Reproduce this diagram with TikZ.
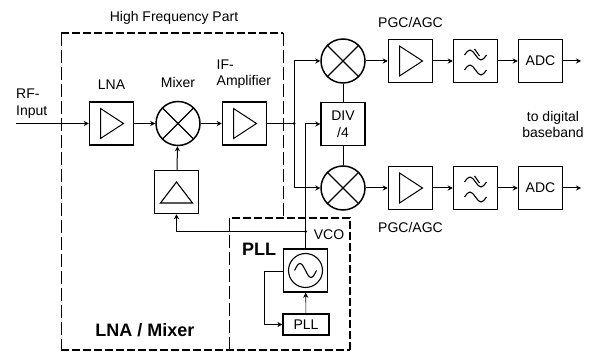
\documentclass[tikz,border=0pt]{standalone}
\usepackage{fontspec}
\setmainfont{Liberation Sans}
\usetikzlibrary{arrows.meta, positioning, calc}
\tikzset{
  blockbox/.style={
    rectangle, draw, line width=1.5pt, inner sep=0pt, minimum width=44pt,
    minimum height=43pt, align=center, font=\fontsize{14}{17}\selectfont
  },
  ampbox/.style={
    blockbox, path picture={
      \draw[line width=1pt, shift={(path picture bounding box.center)}] (-11,-15) -- (12,0) -- (-11,15) -- cycle;
    }
  },
  ampupbox/.style={
    blockbox, path picture={
      \draw[line width=1.1pt, shift={(path picture bounding box.center)}] (0,-10) -- (16,11) -- (-16,11) -- cycle;
    }
  },
  filterbox/.style={
    blockbox, path picture={
      \draw[line width=1.1pt, shift={(path picture bounding box.center)}]
        (-11,-6) sin (-5.5,-11) cos (0,-6) sin (5.5,-1) cos (11,-6)
        (-11,9) sin (-5.5,4) cos (0,9) sin (5.5,14) cos (11,9)
        (-1,-12) -- (4,-5);
    }
  },
  oscbox/.style={
    blockbox, path picture={
      \draw[line width=1.1pt, shift={(path picture bounding box.center)}]
        (0,0) circle (17)
        (-11,0) sin (-5.5,-7) cos (0,0) sin (5.5,7) cos (11,0);
    }
  },
  mixbox/.style={
    circle, draw, line width=1.5pt, inner sep=0pt, minimum size=44pt,
    path picture={
      \draw[line width=1.1pt] (path picture bounding box.north west) -- (path picture bounding box.south east)
        (path picture bounding box.north east) -- (path picture bounding box.south west);
    }
  },
  smallbox/.style={
    blockbox, line width=1.2pt, minimum width=46pt, minimum height=21pt
  },
  txtlabel/.style={
    font=\fontsize{14}{16.5}\selectfont, align=center, inner sep=0pt
  },
  boldlabel/.style={
    font=\fontsize{18}{20}\selectfont\bfseries, inner sep=0pt
  },
  sigarrow/.style={
    line width=1pt, -{Stealth[length=5pt, width=5pt]}
  },
  sigline/.style={
    line width=1pt
  },
  ctrlarrow/.style={
    line width=0.6pt, -{Stealth[length=5pt, width=5pt]}
  },
  partdash/.style={
    line width=1pt, dash pattern=on 13pt off 4pt
  },
  partdashwide/.style={
    line width=1.8pt, dash pattern=on 8pt off 3pt
  }
}
\begin{document}
\begin{tikzpicture}[x=1pt, y=-1pt, node distance=21pt]
  \useasboundingbox (0,0) rectangle (594,352);

  % receive chain
  \node[ampbox] (lna) at (111.5,123.5) {};
  \node[mixbox, right=21pt of lna] (mixer) {};
  \node[ampbox, right=21pt of mixer] (ifamp) {};
  \node[ampupbox] (loamp) at (176.5,192) {};

  % I and Q branches
  \node[mixbox] (mixtop) at (343,61) {};
  \node[ampbox, right=22pt of mixtop] (pgctop) {};
  \node[filterbox, right of=pgctop, node distance=65pt] (lpftop) {};
  \node[blockbox, right of=lpftop, node distance=65pt] (adctop) {ADC};
  \node[mixbox] (mixbot) at (343,188) {};
  \node[ampbox, right=22pt of mixbot] (pgcbot) {};
  \node[filterbox, right of=pgcbot, node distance=65pt] (lpfbot) {};
  \node[blockbox, right of=lpfbot, node distance=65pt] (adcbot) {ADC};
  \node[blockbox] (div) at (343,124) {DIV\\/4};

  % PLL part
  \node[oscbox] (vco) at (305.5,270.5) {};
  \node[smallbox] (pll) at (306,324.5) {PLL};

  \coordinate (rfin) at (16,123.5);
  \coordinate (split) at (294,123.5);
  \coordinate (vcotap) at (305.5,231.5);
  \coordinate (outtop) at (581,61);
  \coordinate (outbot) at (581,188);
  \coordinate (pllturn) at (264,271);

  % dashed parts
  \draw[partdashwide] (61,33) -- (283,33);
  \draw[partdash] (283,33) -- (283,218);
  \draw[partdash] (61,33) -- (61,350);
  \draw[partdashwide] (61,350) -- (350,350);
  \draw[partdashwide] (350,350) -- (350,218) -- (229,218);
  \draw[partdash] (229,218) -- (229,350);

  % signal path
  \draw[sigarrow] (rfin) -- (lna);
  \draw[sigarrow] (lna) -- (mixer);
  \draw[sigarrow] (mixer) -- (ifamp);
  \draw[sigline] (ifamp) -- (split);
  \fill (split) circle (1.5);
  \draw[sigarrow] (split) |- (mixtop);
  \draw[sigarrow] (split) |- (mixbot);
  \draw[sigarrow] (mixtop) -- (pgctop);
  \draw[sigarrow] (pgctop) -- (lpftop);
  \draw[sigarrow] (lpftop) -- (adctop);
  \draw[sigarrow] (adctop) -- (outtop);
  \draw[sigarrow] (mixbot) -- (pgcbot);
  \draw[sigarrow] (pgcbot) -- (lpfbot);
  \draw[sigarrow] (lpfbot) -- (adcbot);
  \draw[sigarrow] (adcbot) -- (outbot);
  \draw[sigline] (mixtop) -- (div);
  \draw[sigline] (div) -- (mixbot);

  % LO path
  \draw[sigarrow] (loamp) -- (mixer);
  \draw[sigline] (vco) -- (vcotap);
  \fill (vcotap) circle (1.5);
  \draw[sigarrow] (vcotap) -| (loamp);
  \draw[sigarrow] (vcotap) |- (div);
  \draw[ctrlarrow] (pll) -- (vco);
  \draw[ctrlarrow] (vco.west |- pllturn) -- (pllturn) |- (pll);

  % labels
  \node[txtlabel] (hfpart) at (174,18) {High Frequency Part};
  \node[txtlabel, align=left, anchor=west] (rflabel) at (16,103.5) {RF-\\Input};
  \node[txtlabel, above=12pt of lna] (lnalabel) {LNA};
  \node[txtlabel, above=13pt of mixer] (mixlabel) {Mixer};
  \node[txtlabel, align=left, anchor=west] (iflabel) at (216.5,74) {IF-\\Amplifier};
  \node[txtlabel, above=11pt of pgctop] (pgclabeltop) {PGC/AGC};
  \node[txtlabel, below=12pt of pgcbot] (pgclabelbot) {PGC/AGC};
  \node[txtlabel] (bblabel) at (553,124.5) {to digital\\baseband};
  \node[txtlabel] (vcolabel) at (329,234.5) {VCO};
  \node[boldlabel] (plllabel) at (259,249) {PLL};
  \node[boldlabel] (lnapart) at (145,330) {LNA / Mixer};
\end{tikzpicture}
\end{document}
